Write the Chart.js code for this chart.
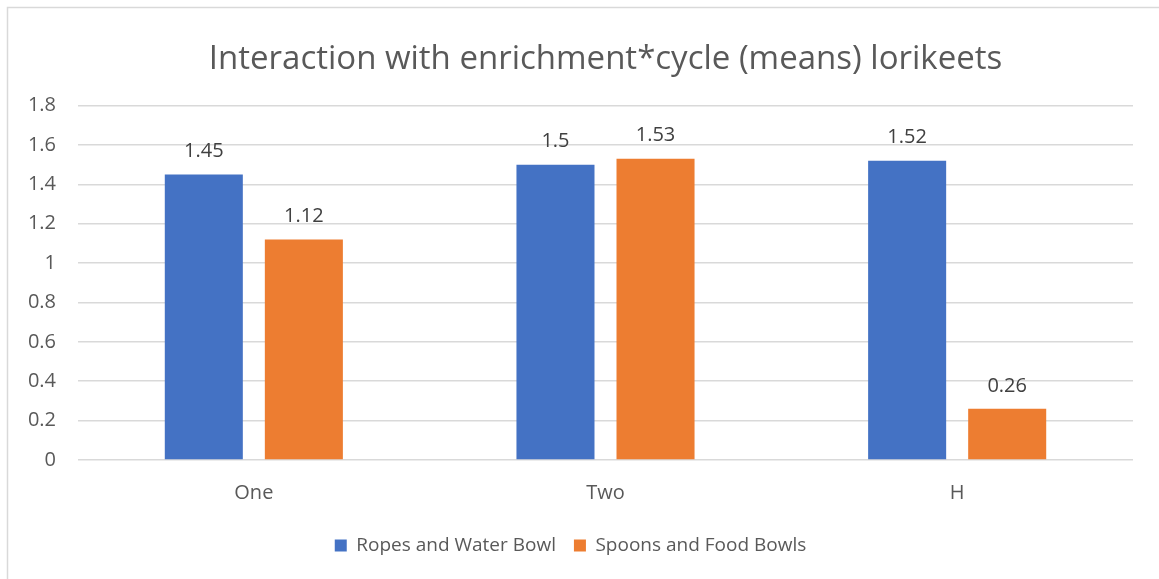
<!DOCTYPE html>
<html>
<head>
<meta charset="utf-8">
<script src="https://cdn.jsdelivr.net/npm/chart.js@4/dist/chart.umd.min.js"></script>
<style>
  html, body { margin: 0; padding: 0; background: #fff; overflow: hidden; }
  canvas { display: block; }
</style>
</head>
<body>
<canvas id="c" width="1159" height="579"></canvas>
<script>
const titleText = "Interaction with enrichment*cycle (means) lorikeets";
const categories = ["One", "Two", "H"];
const seriesNames = ["Ropes and Water Bowl", "Spoons and Food Bowls"];
const ropesValues = [1.45, 1.5, 1.52];
const spoonsValues = [1.12, 1.53, 0.26];
const yTicks = [0, 0.2, 0.4, 0.6, 0.8, 1, 1.2, 1.4, 1.6, 1.8];

const FONT = "'Open Sans', 'Noto Sans', sans-serif";
const TEXT = "#595959";

const frame = {
  id: "frame",
  beforeDraw(chart) {
    const ctx = chart.ctx;
    ctx.save();
    ctx.fillStyle = "#fff";
    ctx.fillRect(0, 0, chart.width, chart.height);
    ctx.strokeStyle = "#d9d9d9";
    ctx.lineWidth = 1.5;
    ctx.strokeRect(7.5, 7.5, chart.width + 10, chart.height + 10);
    ctx.restore();
  }
};

const valueLabels = {
  id: "valueLabels",
  afterDatasetsDraw(chart) {
    const ctx = chart.ctx;
    ctx.save();
    ctx.font = "20px " + FONT;
    ctx.fillStyle = "#404040";
    ctx.textAlign = "center";
    ctx.textBaseline = "middle";
    chart.data.datasets.forEach((ds, i) => {
      chart.getDatasetMeta(i).data.forEach((bar, j) => {
        ctx.fillText(String(ds.data[j]), bar.x, bar.y - 23);
      });
    });
    ctx.restore();
  }
};

new Chart(document.getElementById("c"), {
  type: "bar",
  data: {
    labels: categories,
    datasets: [
      { label: seriesNames[0], data: ropesValues, backgroundColor: "#4472C4" },
      { label: seriesNames[1], data: spoonsValues, backgroundColor: "#ED7D31" }
    ]
  },
  options: {
    responsive: false,
    animation: false,
    devicePixelRatio: 1,
    categoryPercentage: 0.569,
    barPercentage: 0.78,
    layout: { padding: { left: 8, right: 26, top: 8, bottom: 14 } },
    plugins: {
      title: {
        display: true,
        fullSize: false,
        text: titleText,
        color: TEXT,
        font: { family: FONT, size: 33, weight: "normal" },
        padding: { top: 32, bottom: 26 }
      },
      legend: {
        position: "bottom",
        labels: {
          color: TEXT,
          font: { family: FONT, size: 19 },
          boxWidth: 12,
          boxHeight: 12,
          padding: 18
        }
      },
      tooltip: { enabled: false }
    },
    scales: {
      x: {
        grid: { display: false },
        border: { display: false },
        ticks: { color: TEXT, font: { family: FONT, size: 20 }, padding: 13 },
        afterFit(scale) { scale.height = 58; }
      },
      y: {
        min: 0,
        max: 1.8,
        afterBuildTicks(scale) { scale.ticks = yTicks.map(v => ({ value: v })); },
        grid: { color: "#d9d9d9", lineWidth: 1.5, drawTicks: false },
        border: { display: false },
        ticks: {
          color: TEXT,
          font: { family: FONT, size: 20 },
          padding: 22,
          callback: v => String(Math.round(v * 10) / 10)
        },
        afterFit(scale) { scale.width = 70; }
      }
    }
  },
  plugins: [frame, valueLabels]
});
</script>
</body>
</html>
